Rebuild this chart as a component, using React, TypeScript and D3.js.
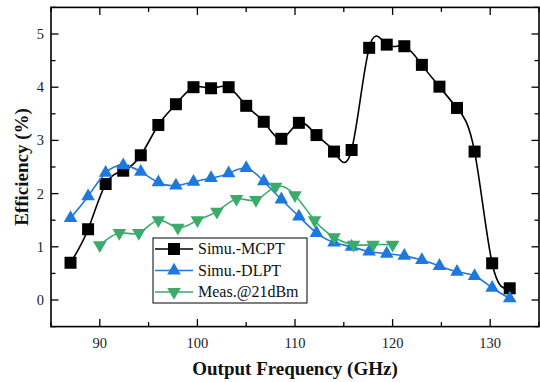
import React from "react";
import * as d3 from "d3";

const simFreq = [87, 88.8, 90.6, 92.4, 94.2, 96, 97.8, 99.6, 101.4, 103.2, 105, 106.8, 108.6, 110.4, 112.2, 114, 115.8, 117.6, 119.4, 121.2, 123, 124.8, 126.6, 128.4, 130.2, 132];
const mcpt = [0.70, 1.33, 2.18, 2.43, 2.72, 3.29, 3.68, 4.00, 3.98, 4.00, 3.65, 3.35, 3.03, 3.33, 3.10, 2.79, 2.82, 4.74, 4.80, 4.77, 4.42, 4.01, 3.61, 2.79, 0.69, 0.22];
const dlpt = [1.54, 1.95, 2.39, 2.53, 2.41, 2.21, 2.15, 2.22, 2.29, 2.38, 2.48, 2.23, 1.89, 1.57, 1.26, 1.08, 1.00, 0.91, 0.87, 0.83, 0.75, 0.64, 0.53, 0.45, 0.23, 0.03];
const measFreq = [90, 92, 94, 96, 98, 100, 102, 104, 106, 108, 110, 112, 114, 116, 118, 120];
const meas = [1.03, 1.26, 1.26, 1.50, 1.36, 1.50, 1.66, 1.90, 1.88, 2.13, 1.97, 1.50, 1.18, 1.04, 1.04, 1.04];

const xMajor = [90, 100, 110, 120, 130];
const xMinor = [85, 95, 105, 115, 125, 135];
const yMajor = [0, 1, 2, 3, 4, 5];
const yMinor = [-0.5, 0.5, 1.5, 2.5, 3.5, 4.5, 5.5];

const seriesNames = ["Simu.-MCPT", "Simu.-DLPT", "Meas.@21dBm"];
const colors = ["#000000", "#1f78de", "#3bab6b"];

const FONT = "Liberation Serif, Times New Roman, Times, DejaVu Serif, serif";

export default function App() {
  const L = 51, R = 539, T = 7.4, B = 326.6;
  const x = d3.scaleLinear().domain([85, 135]).range([L, R]);
  const y = d3.scaleLinear().domain([-0.5, 5.5]).range([B, T]);

  const line = d3
    .line<[number, number]>()
    .x((d) => x(d[0]))
    .y((d) => y(d[1]))
    .curve(d3.curveNatural);

  const sq = d3.symbol().type(d3.symbolSquare).size(144)()!;
  const tri = d3.symbol().type(d3.symbolTriangle).size(80)()!;

  const series = [
    { xs: simFreq, ys: mcpt, marker: sq, rot: 0 },
    { xs: simFreq, ys: dlpt, marker: tri, rot: 0 },
    { xs: measFreq, ys: meas, marker: tri, rot: 180 },
  ];

  const majorLen = 7.5;
  const minorLen = 4.5;
  const txt = { fontFamily: FONT };

  return (
    <svg
      width={540}
      height={382}
      style={{ position: "absolute", left: 0, top: 0, background: "#fff", fontFamily: FONT }}
    >
      <rect x={0} y={0} width={540} height={382} fill="#fff" />
      {series.map((s, i) => (
        <g key={i}>
          <path
            d={line(s.xs.map((v, j) => [v, s.ys[j]] as [number, number])) || ""}
            fill="none"
            stroke={colors[i]}
            strokeWidth={1.6}
          />
          {s.xs.map((v, j) => (
            <path
              key={j}
              d={s.marker}
              transform={`translate(${x(v)},${y(s.ys[j])}) rotate(${s.rot})`}
              fill={colors[i]}
            />
          ))}
        </g>
      ))}

      {/* frame */}
      <rect x={L} y={T} width={R - L} height={B - T} fill="none" stroke="#000" strokeWidth={1.6} />

      {/* x ticks */}
      {xMajor.map((v) => (
        <g key={"xM" + v}>
          <line x1={x(v)} x2={x(v)} y1={B} y2={B - majorLen} stroke="#000" strokeWidth={1.3} />
          <line x1={x(v)} x2={x(v)} y1={T} y2={T + majorLen} stroke="#000" strokeWidth={1.3} />
          <text x={x(v)} y={348} textAnchor="middle" fontSize={14.5} fill="#222" style={txt}>
            {v}
          </text>
        </g>
      ))}
      {xMinor.map((v) => (
        <g key={"xm" + v}>
          <line x1={x(v)} x2={x(v)} y1={B} y2={B - minorLen} stroke="#000" strokeWidth={1.3} />
          <line x1={x(v)} x2={x(v)} y1={T} y2={T + minorLen} stroke="#000" strokeWidth={1.3} />
        </g>
      ))}
      {/* y ticks */}
      {yMajor.map((v) => (
        <g key={"yM" + v}>
          <line x1={L} x2={L + majorLen} y1={y(v)} y2={y(v)} stroke="#000" strokeWidth={1.3} />
          <line x1={R} x2={R - majorLen} y1={y(v)} y2={y(v)} stroke="#000" strokeWidth={1.3} />
          <text x={44} y={y(v)} dy="0.35em" textAnchor="end" fontSize={14.5} fill="#222" style={txt}>
            {v}
          </text>
        </g>
      ))}
      {yMinor.map((v) => (
        <g key={"ym" + v}>
          <line x1={L} x2={L + minorLen} y1={y(v)} y2={y(v)} stroke="#000" strokeWidth={1.3} />
          <line x1={R} x2={R - minorLen} y1={y(v)} y2={y(v)} stroke="#000" strokeWidth={1.3} />
        </g>
      ))}

      {/* axis titles */}
      <text x={(L + R) / 2} y={375} textAnchor="middle" fontSize={19} fontWeight="bold" fill="#111" style={txt}>
        Output Frequency (GHz)
      </text>
      <text
        transform={`translate(28,${(T + B) / 2}) rotate(-90)`}
        textAnchor="middle"
        fontSize={19}
        fontWeight="bold"
        fill="#111"
        style={txt}
      >
        Efficiency (%)
      </text>

      {/* legend */}
      <rect x={153} y={238} width={154} height={65} fill="#fff" stroke="#000" strokeWidth={1} />
      {seriesNames.map((name, i) => {
        const cy = 249 + i * 21.5;
        return (
          <g key={name}>
            <line x1={155} x2={193} y1={cy} y2={cy} stroke={colors[i]} strokeWidth={1.6} />
            <path
              d={series[i].marker}
              transform={`translate(174,${cy}) rotate(${series[i].rot})`}
              fill={colors[i]}
            />
            <text x={198} y={cy} dy="0.33em" fontSize={16} fill="#111" style={txt}>
              {name}
            </text>
          </g>
        );
      })}
    </svg>
  );
}
